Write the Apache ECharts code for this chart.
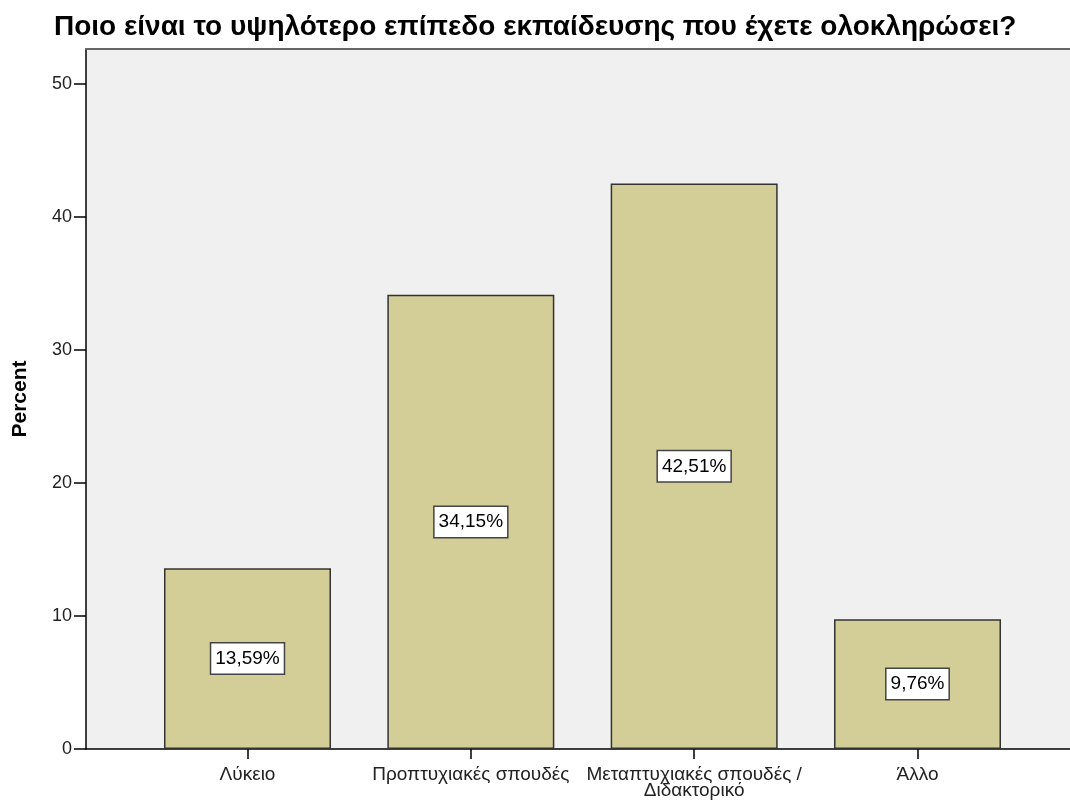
<!DOCTYPE html>
<html>
<head>
<meta charset="utf-8">
<script src="https://cdn.jsdelivr.net/npm/echarts@6/dist/echarts.min.js"></script>
<style>
  html, body { margin: 0; padding: 0; background: #ffffff; }
  #chart { width: 1070px; height: 802px; }
</style>
</head>
<body>
<div id="chart"></div>
<script>
// Highest completed level of education, percent of respondents
const categories = ['Λύκειο', 'Προπτυχιακές σπουδές', 'Μεταπτυχιακές σπουδές /\nΔιδακτορικό', 'Άλλο'];
const percents = [13.59, 34.15, 42.51, 9.76];
const yTicks = [0, 10, 20, 30, 40, 50];

const FONT = '"Liberation Sans", Arial, sans-serif';
const positions = categories.map((_, i) => i);

const chart = echarts.init(document.getElementById('chart'), null, { renderer: 'canvas' });

chart.setOption({
  backgroundColor: '#ffffff',
  animation: false,
  title: {
    text: 'Ποιο είναι το υψηλότερο επίπεδο εκπαίδευσης που έχετε ολοκληρώσει?',
    left: 49,
    top: 8,
    textStyle: { fontFamily: FONT, fontSize: 28, fontWeight: 'bold', color: '#000' }
  },
  grid: {
    left: 86, right: 0, top: 49, bottom: 53,
    show: true, backgroundColor: '#f0f0f0', borderWidth: 0
  },
  xAxis: [{
    type: 'value',
    min: -0.7231,
    max: 3.6828,
    splitLine: { show: false },
    axisLine: { show: true, onZero: false, lineStyle: { color: '#000', width: 1.5 } },
    axisTick: { show: true, customValues: positions, length: 10, lineStyle: { color: '#000', width: 1.5 } },
    axisLabel: {
      customValues: positions,
      formatter: v => categories[Math.round(v)],
      fontFamily: FONT, fontSize: 19, color: '#222', margin: 18, lineHeight: 16,
      showMinLabel: true, showMaxLabel: true
    }
  }, {
    type: 'value',
    position: 'top',
    min: -0.7231,
    max: 3.6828,
    splitLine: { show: false },
    axisLine: { show: true, onZero: false, lineStyle: { color: '#666', width: 2 } },
    axisTick: { show: false },
    axisLabel: { show: false }
  }],
  yAxis: {
    type: 'value',
    min: 0,
    max: 52.63,
    interval: 10,
    name: 'Percent',
    nameLocation: 'middle',
    nameGap: 55,
    nameRotate: 90,
    nameTextStyle: { fontFamily: FONT, fontSize: 21, fontWeight: 'bold', color: '#000' },
    splitLine: { show: false },
    axisLine: { show: true, onZero: false, lineStyle: { color: '#000', width: 1.5 } },
    axisTick: { show: true, length: 12, customValues: yTicks, lineStyle: { color: '#000', width: 1.5 } },
    axisLabel: {
      fontFamily: FONT, fontSize: 18, color: '#222', margin: 14,
      customValues: yTicks,
      formatter: v => String(v)
    }
  },
  series: [{
    type: 'bar',
    xAxisIndex: 0,
    barWidth: 167,
    data: percents.map((p, i) => [i, p]),
    itemStyle: { color: '#d3ce97', borderColor: '#333', borderWidth: 1.5 },
    label: {
      show: true,
      position: 'inside',
      formatter: p => p.value[1].toFixed(2).replace('.', ',') + '%',
      fontFamily: FONT, fontSize: 19, color: '#000',
      backgroundColor: '#ffffff',
      borderColor: '#444', borderWidth: 1.5,
      padding: [6, 4, 5, 4]
    }
  }]
});
</script>
</body>
</html>
